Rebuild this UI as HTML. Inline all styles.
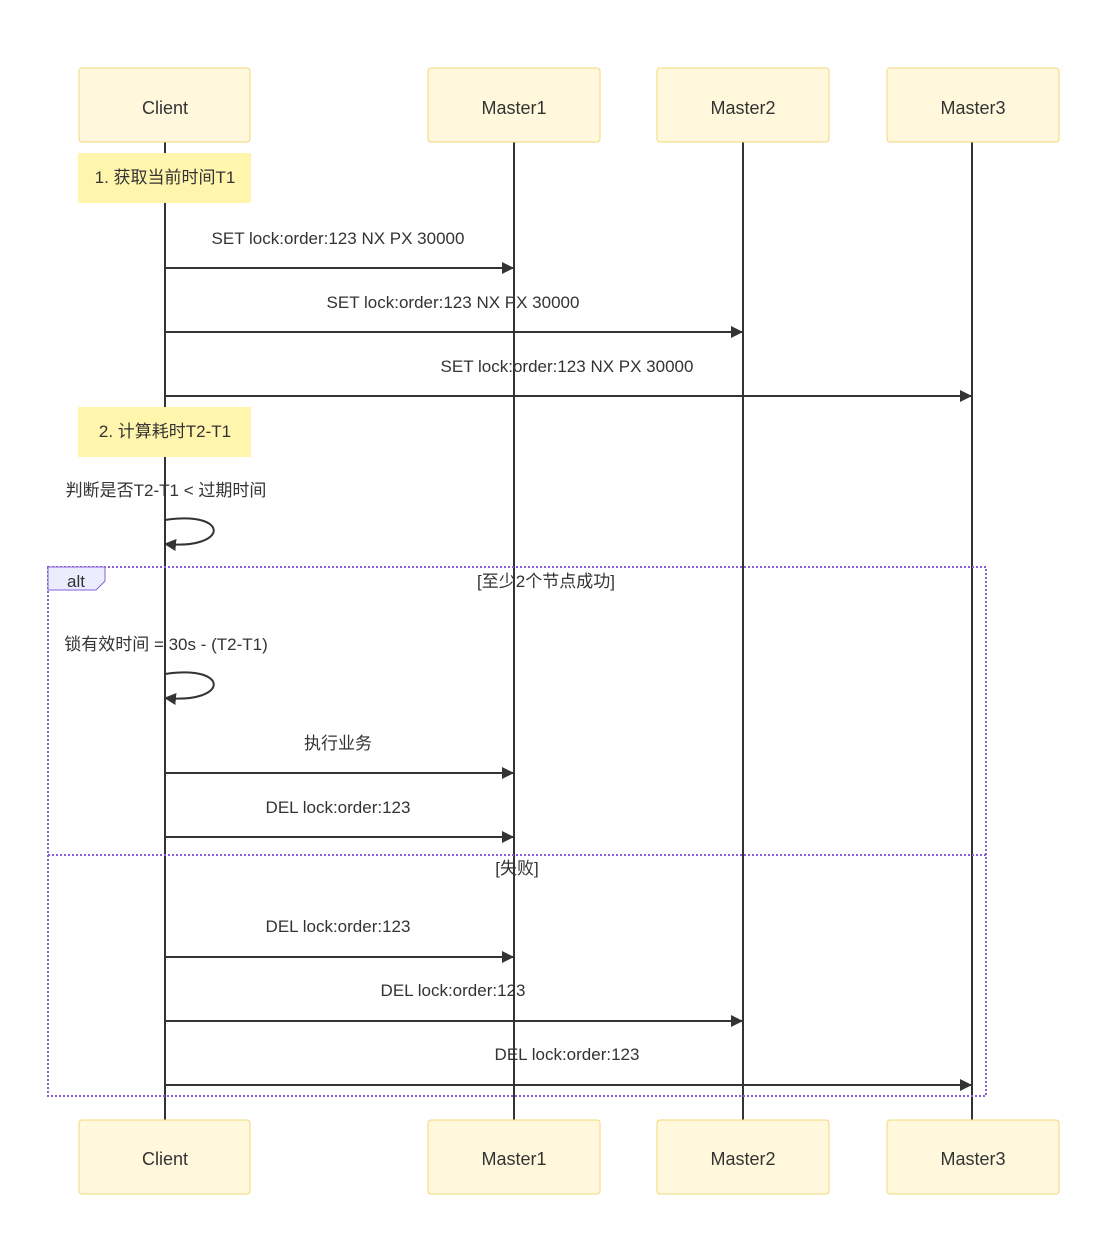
<!DOCTYPE html>
<html><head><meta charset="utf-8"><style>
html,body{margin:0;padding:0;background:#fff}
svg text{font-family:"Liberation Sans","Noto Sans CJK SC",sans-serif;fill:#333}
</style></head><body>
<svg width="1103" height="1238" viewBox="0 0 1103 1238" xmlns="http://www.w3.org/2000/svg">
<defs><marker id="a" markerWidth="12" markerHeight="12" refX="11" refY="6" orient="auto" markerUnits="userSpaceOnUse"><path d="M0,0 L12,6 L0,12 z" fill="#333"/></marker></defs>
<g stroke="#333" stroke-width="2">
<line x1="165" y1="142" x2="165" y2="1120"/>
<line x1="514" y1="142" x2="514" y2="1120"/>
<line x1="743" y1="142" x2="743" y2="1120"/>
<line x1="972" y1="142" x2="972" y2="1120"/>
</g>
<g fill="#fff8dc" stroke="#f0d878" stroke-width="1">
<rect x="79" y="68" width="171" height="74" rx="3"/><rect x="428" y="68" width="172" height="74" rx="3"/>
<rect x="657" y="68" width="172" height="74" rx="3"/><rect x="887" y="68" width="172" height="74" rx="3"/>
<rect x="79" y="1120" width="171" height="74" rx="3"/><rect x="428" y="1120" width="172" height="74" rx="3"/>
<rect x="657" y="1120" width="172" height="74" rx="3"/><rect x="887" y="1120" width="172" height="74" rx="3"/>
</g>
<g font-size="18" text-anchor="middle">
<text x="165" y="114">Client</text><text x="514" y="114">Master1</text><text x="743" y="114">Master2</text><text x="973" y="114">Master3</text>
<text x="165" y="1165">Client</text><text x="514" y="1165">Master1</text><text x="743" y="1165">Master2</text><text x="973" y="1165">Master3</text>
</g>
<rect x="78" y="153" width="173" height="50" fill="#fff5ad"/>
<rect x="78" y="407" width="173" height="50" fill="#fff5ad"/>
<g font-size="17" text-anchor="middle">
<text x="165" y="183">1. 获取当前时间T1</text>
<text x="165" y="437">2. 计算耗时T2-T1</text>
<text x="338" y="244">SET lock:order:123 NX PX 30000</text>
<text x="453" y="308">SET lock:order:123 NX PX 30000</text>
<text x="567" y="372">SET lock:order:123 NX PX 30000</text>
<text x="166" y="496">判断是否T2-T1 &lt; 过期时间</text>
<text x="166" y="650">锁有效时间 = 30s - (T2-T1)</text>
<text x="338" y="749">执行业务</text>
<text x="338" y="813">DEL lock:order:123</text>
<text x="338" y="932">DEL lock:order:123</text>
<text x="453" y="996">DEL lock:order:123</text>
<text x="567" y="1060">DEL lock:order:123</text>
<text x="546" y="587">[至少2个节点成功]</text>
<text x="517" y="874">[失败]</text>
</g>
<g stroke="#333" stroke-width="2" fill="none" marker-end="url(#a)">
<line x1="165" y1="268" x2="513" y2="268"/>
<line x1="165" y1="332" x2="742" y2="332"/>
<line x1="165" y1="396" x2="971" y2="396"/>
<path d="M165,520 C230,510 230,550 165,544"/>
<path d="M165,674 C230,664 230,704 165,698"/>
<line x1="165" y1="773" x2="513" y2="773"/>
<line x1="165" y1="837" x2="513" y2="837"/>
<line x1="165" y1="957" x2="513" y2="957"/>
<line x1="165" y1="1021" x2="742" y2="1021"/>
<line x1="165" y1="1085" x2="971" y2="1085"/>
</g>
<g stroke="#8a5fd6" stroke-width="2" stroke-dasharray="2,2" fill="none">
<rect x="48" y="567" width="938" height="529"/>
<line x1="48" y1="855" x2="986" y2="855"/>
</g>
<path d="M48,567 L105,567 L105,581 L96,590 L48,590 z" fill="#ececff" stroke="#8a5fd6" stroke-width="1"/>
<text x="76" y="587" font-size="17" text-anchor="middle">alt</text>
</svg>
</body></html>
